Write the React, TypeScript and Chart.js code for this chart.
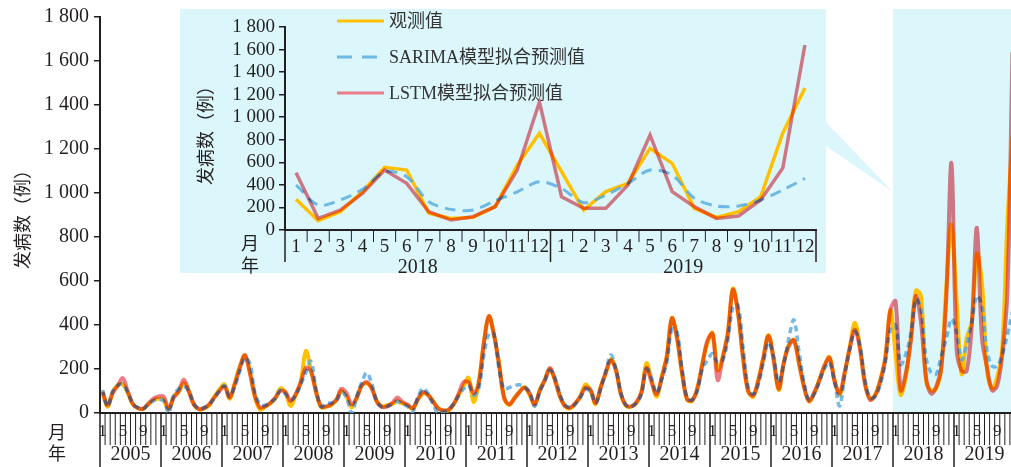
import React, { useEffect, useRef } from "react";
import { Chart, registerables } from "chart.js";

Chart.register(...registerables);

// ---- data -------------------------------------------------------------
const years = [2005, 2006, 2007, 2008, 2009, 2010, 2011, 2012, 2013, 2014, 2015, 2016, 2017, 2018, 2019];
const monthNumbers = [1, 2, 3, 4, 5, 6, 7, 8, 9, 10, 11, 12];
const labeledMonths = [1, 5, 9];
const zoomYears = [2018, 2019];

// monthly reported cases, Jan 2005 – Dec 2019
const observed = [
  100, 28, 95, 127, 130, 90, 38, 22, 18, 40, 58, 65,
  60, 14, 74, 97, 135, 100, 36, 17, 21, 36, 74, 107,
  130, 65, 135, 210, 262, 185, 72, 15, 28, 44, 67, 112,
  90, 32, 82, 142, 282, 195, 100, 25, 28, 36, 60, 100,
  74, 25, 67, 127, 135, 112, 52, 29, 36, 41, 55, 44,
  35, 18, 60, 88, 85, 55, 22, 12, 12, 36, 80, 120,
  160, 50, 140, 317, 440, 355, 227, 68, 36, 68, 95, 118,
  83, 36, 104, 150, 200, 150, 74, 30, 21, 42, 75, 130,
  100, 40, 120, 180, 245, 195, 81, 32, 29, 44, 90, 226,
  150, 74, 165, 260, 432, 340, 180, 60, 55, 110, 225, 320,
  364, 195, 256, 362, 565, 455, 256, 100, 74, 150, 253, 354,
  250, 104, 227, 309, 332, 227, 120, 52, 90, 150, 210, 255,
  150, 80, 180, 300, 410, 300, 136, 64, 83, 150, 253, 468,
  272, 83, 162, 340, 556, 532, 148, 103, 112, 207, 576, 857,
  517, 177, 340, 414, 724, 591, 192, 112, 162, 295, 860, 1259,
];

const sarima = [
  105, 30, 100, 125, 130, 92, 40, 25, 20, 38, 56, 62,
  55, 0, 80, 110, 120, 100, 40, 20, 25, 38, 70, 100,
  125, 75, 120, 190, 250, 225, 90, 40, 35, 50, 65, 105,
  85, 60, 80, 130, 185, 235, 110, 28, 45, 45, 55, 95,
  70, 0, 75, 140, 183, 130, 50, 25, 30, 40, 52, 40,
  30, 5, 70, 112, 90, 40, 0, 5, 15, 40, 75, 110,
  125, 80, 110, 260, 360, 360, 200, 110, 115, 125, 128, 120,
  95, 30, 95, 145, 195, 160, 85, 35, 25, 40, 70, 110,
  95, 45, 110, 190, 264, 200, 90, 35, 30, 45, 85, 200,
  160, 90, 150, 230, 380, 370, 200, 70, 60, 100, 200, 240,
  270, 230, 240, 330, 480, 490, 300, 120, 85, 130, 230, 320,
  260, 140, 220, 340, 423, 280, 140, 60, 85, 140, 200, 230,
  140, 32, 170, 290, 370, 310, 150, 70, 75, 130, 230, 380,
  399, 221, 266, 361, 517, 473, 251, 183, 177, 260, 339, 428,
  369, 242, 310, 414, 532, 487, 281, 213, 213, 266, 355, 458,
];

const lstm = [
  95, 35, 90, 125, 158, 95, 40, 22, 20, 42, 65, 75,
  75, 20, 70, 100, 152, 95, 38, 18, 22, 40, 70, 100,
  120, 70, 130, 205, 262, 180, 75, 25, 30, 45, 70, 100,
  95, 55, 85, 140, 205, 190, 95, 30, 30, 40, 60, 110,
  90, 40, 70, 125, 140, 110, 50, 28, 30, 45, 70, 50,
  38, 22, 62, 95, 82, 52, 22, 12, 14, 38, 85, 140,
  140, 90, 135, 315, 440, 355, 220, 70, 40, 65, 95, 115,
  90, 40, 100, 150, 205, 150, 75, 32, 25, 45, 75, 115,
  105, 45, 115, 185, 240, 195, 85, 35, 30, 48, 95, 205,
  140, 85, 160, 255, 430, 345, 185, 62, 58, 110, 220, 330,
  360, 150, 250, 360, 560, 460, 250, 100, 80, 145, 250, 350,
  245, 110, 225, 305, 330, 230, 118, 55, 92, 148, 215, 250,
  145, 90, 185, 295, 378, 290, 130, 60, 80, 145, 250, 470,
  508, 103, 177, 325, 532, 414, 162, 88, 118, 207, 532, 1135,
  295, 192, 192, 399, 842, 340, 207, 103, 124, 266, 550, 1640,
];

const monthLabels = years.flatMap((y) => monthNumbers.map((m) => `${y}-${m}`));
const zoomStart = years.indexOf(zoomYears[0]) * 12;

// ---- styling ----------------------------------------------------------
const SERIF = '"Liberation Serif", "Noto Sans CJK SC", serif';
const CJK = '"Noto Sans CJK SC", "Liberation Serif", sans-serif';
const INK = "#231f20";
const CYAN = "rgb(220,247,252)";
const YELLOW = "rgb(255,192,0)";
const BLUE = "rgba(82,168,224,0.8)";
const PINK = "rgba(236,112,124,0.92)";

const INSET_LEFT = 180;
const INSET_TOP = 9;
const INSET_W = 646;
const INSET_H = 272;
const INSET_BG_H = 264;

const fmt = (v: number) =>
  v >= 1000 ? `${Math.floor(v / 1000)} ${String(v % 1000).padStart(3, "0")}` : String(v);

// the LSTM line is blended with multiply so it tints the lines beneath it
const multiplyPlugin = {
  id: "multiplyLines",
  beforeDatasetDraw(chart: any, args: any) {
    chart.ctx.save();
    if (chart.data.datasets[args.index].multiply) chart.ctx.globalCompositeOperation = "multiply";
  },
  afterDatasetDraw(chart: any) {
    chart.ctx.restore();
  },
};

const mainDecor = {
  id: "mainDecor",
  beforeDraw(chart: any) {
    const { ctx, chartArea, scales } = chart;
    const x = scales.x;
    const half = (x.getPixelForValue(1) - x.getPixelForValue(0)) / 2;
    const x0 = x.getPixelForValue(zoomStart) - half;
    ctx.save();
    ctx.fillStyle = CYAN;
    ctx.fillRect(x0, INSET_TOP, chart.width - x0, chartArea.bottom - INSET_TOP);
    // connector from the enlarged view to the highlighted span
    ctx.beginPath();
    ctx.moveTo(INSET_LEFT + INSET_W, 122);
    ctx.lineTo(INSET_LEFT + INSET_W, 146);
    ctx.lineTo(x0, 192);
    ctx.closePath();
    ctx.fill();
    ctx.restore();
  },
  afterDraw(chart: any) {
    const { ctx, chartArea, scales } = chart;
    const x = scales.x;
    const n = monthLabels.length;
    const half = (x.getPixelForValue(1) - x.getPixelForValue(0)) / 2;
    const first = x.getPixelForValue(0) - half;
    const step = half * 2;
    const bottom = chartArea.bottom;
    ctx.save();
    ctx.strokeStyle = INK;
    ctx.fillStyle = INK;
    // month ruler
    for (let i = 0; i <= n; i++) {
      const bx = first + i * step;
      ctx.beginPath();
      if (i % 12 === 0) {
        ctx.lineWidth = 1.5;
        ctx.moveTo(bx, bottom);
        ctx.lineTo(bx, chart.height);
      } else {
        ctx.lineWidth = 1;
        ctx.moveTo(bx, bottom);
        ctx.lineTo(bx, bottom + 32);
      }
      ctx.stroke();
    }
    ctx.font = `17px ${SERIF}`;
    ctx.textAlign = "center";
    ctx.textBaseline = "middle";
    monthLabels.forEach((_, i) => {
      const m = monthNumbers[i % 12];
      if (labeledMonths.includes(m)) ctx.fillText(String(m), x.getPixelForValue(i), bottom + 19);
    });
    ctx.font = `20px ${SERIF}`;
    years.forEach((y, k) => {
      const cx = first + (k * 12 + 6) * step;
      ctx.fillText(String(y), cx, bottom + 42);
    });
    ctx.font = `18px ${CJK}`;
    ctx.fillText("月", 57, bottom + 19);
    ctx.fillText("年", 57, bottom + 40);
    // y title
    ctx.translate(22, 215);
    ctx.rotate(-Math.PI / 2);
    ctx.fillText("发病数（例）", 0, 0);
    ctx.restore();
  },
};

const insetDecor = {
  id: "insetDecor",
  beforeDraw(chart: any) {
    const { ctx } = chart;
    ctx.save();
    ctx.fillStyle = CYAN;
    ctx.fillRect(0, 0, chart.width, INSET_BG_H);
    ctx.restore();
  },
  afterDraw(chart: any) {
    const { ctx, chartArea, scales } = chart;
    const x = scales.x;
    const n = chart.data.labels.length;
    const half = (x.getPixelForValue(1) - x.getPixelForValue(0)) / 2;
    const first = x.getPixelForValue(0) - half;
    const step = half * 2;
    const bottom = chartArea.bottom;
    ctx.save();
    ctx.strokeStyle = INK;
    ctx.fillStyle = INK;
    for (let i = 0; i <= n; i++) {
      const bx = first + i * step;
      ctx.beginPath();
      ctx.lineWidth = i % 12 === 0 ? 1.5 : 1;
      ctx.moveTo(bx, bottom);
      ctx.lineTo(bx, bottom + (i % 12 === 0 ? 32 : 12));
      ctx.stroke();
    }
    ctx.textAlign = "center";
    ctx.textBaseline = "middle";
    ctx.font = `19px ${SERIF}`;
    for (let i = 0; i < n; i++) {
      ctx.fillText(String(monthNumbers[i % 12]), x.getPixelForValue(i), bottom + 17);
    }
    ctx.font = `20px ${SERIF}`;
    zoomYears.forEach((y, k) => {
      ctx.fillText(String(y), first + (k * 12 + 6) * step, bottom + 38);
    });
    ctx.font = `18px ${CJK}`;
    ctx.fillText("月", 70, bottom + 13);
    ctx.fillText("年", 70, bottom + 35);

    // legend
    ctx.textAlign = "left";
    ctx.font = `18px ${SERIF}`;
    chart.data.datasets.forEach((ds: any, k: number) => {
      const ly = 12 + k * 36;
      ctx.save();
      ctx.strokeStyle = ds.borderColor;
      ctx.lineWidth = 3;
      ctx.setLineDash(ds.borderDash && ds.borderDash.length ? [15, 10] : []);
      ctx.beginPath();
      ctx.moveTo(157, ly);
      ctx.lineTo(204, ly);
      ctx.stroke();
      ctx.restore();
      ctx.fillStyle = "#333";
      ctx.fillText(ds.label, 209, ly + 1);
    });

    ctx.fillStyle = INK;
    ctx.textAlign = "center";
    ctx.font = `18px ${CJK}`;
    ctx.translate(25, 122);
    ctx.rotate(-Math.PI / 2);
    ctx.fillText("发病数（例）", 0, 0);
    ctx.restore();
  },
};

const yTicks = (size: number, padding: number) => ({
  stepSize: 200,
  autoSkip: false,
  callback: (v: any) => fmt(Number(v)),
  font: { family: SERIF, size },
  color: INK,
  padding,
});

const seriesStyles = (width: number, dash: number[], blueTension: number) => [
  { label: "观测值", borderColor: YELLOW, borderWidth: width, pointRadius: 0, order: 3 },
  { label: "SARIMA模型拟合预测值", borderColor: BLUE, borderWidth: width - 0.5, borderDash: dash, pointRadius: 0, order: 2, tension: blueTension },
  { label: "LSTM模型拟合预测值", borderColor: PINK, borderWidth: width, pointRadius: 0, order: 1, multiply: true },
];

export default function App() {
  const mainRef = useRef<HTMLCanvasElement>(null);
  const insetRef = useRef<HTMLCanvasElement>(null);

  useEffect(() => {
    if (!mainRef.current || !insetRef.current) return;

    const mainStyles = seriesStyles(4, [6, 4], 0.35);
    const insetStyles = seriesStyles(3.5, [11, 7], 0.3);
    const series = [observed, sarima, lstm];

    const main = new Chart(mainRef.current, {
      type: "line",
      data: {
        labels: monthLabels,
        datasets: series.map((d, k) => ({ tension: 0.35, ...mainStyles[k], data: d })) as any,
      },
      options: {
        animation: false,
        responsive: false,
        events: [],
        layout: { padding: { top: 17, right: 15, left: 0, bottom: 0 } },
        plugins: { legend: { display: false }, tooltip: { enabled: false } },
        scales: {
          x: {
            type: "category",
            offset: true,
            grid: { display: false },
            ticks: { display: false },
            border: { display: true, color: INK, width: 2 },
            afterFit: (s: any) => { s.height = 54; },
          },
          y: {
            min: 0,
            max: 1800,
            ticks: yTicks(20, 5),
            grid: { drawOnChartArea: false, tickLength: 6, color: INK, lineWidth: 1.5 },
            border: { color: INK, width: 2 },
            afterFit: (s: any) => { s.width = 100; },
          },
        },
      } as any,
      plugins: [multiplyPlugin, mainDecor],
    });

    const inset = new Chart(insetRef.current, {
      type: "line",
      data: {
        labels: monthLabels.slice(zoomStart),
        datasets: series.map((d, k) => ({ tension: 0, ...insetStyles[k], data: d.slice(zoomStart) })) as any,
      },
      options: {
        animation: false,
        responsive: false,
        events: [],
        layout: { padding: { top: 18, right: 10, left: 0, bottom: 0 } },
        plugins: { legend: { display: false }, tooltip: { enabled: false } },
        scales: {
          x: {
            type: "category",
            offset: true,
            grid: { display: false },
            ticks: { display: false },
            border: { display: true, color: INK, width: 2 },
            afterFit: (s: any) => { s.height = 51; },
          },
          y: {
            min: 0,
            max: 1800,
            ticks: yTicks(19, 4),
            grid: { drawOnChartArea: false, tickLength: 6, color: INK, lineWidth: 1.5 },
            border: { color: INK, width: 2 },
            afterFit: (s: any) => { s.width = 105; },
          },
        },
      } as any,
      plugins: [multiplyPlugin, insetDecor],
    });

    return () => {
      main.destroy();
      inset.destroy();
    };
  }, []);

  return (
    <div style={{ position: "fixed", left: 0, top: 0, width: 1011, height: 467, overflow: "hidden", background: "#fff" }}>
      <canvas ref={mainRef} width={1030} height={467} style={{ position: "absolute", left: 0, top: 0 }} />
      <canvas
        ref={insetRef}
        width={INSET_W}
        height={INSET_H}
        style={{ position: "absolute", left: INSET_LEFT, top: INSET_TOP }}
      />
    </div>
  );
}
